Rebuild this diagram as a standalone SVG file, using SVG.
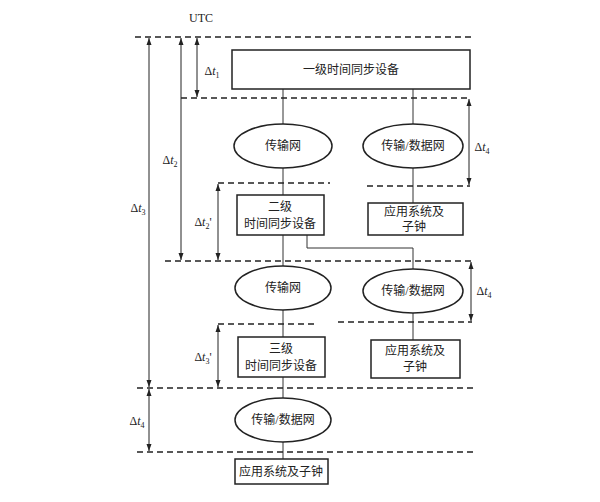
<svg xmlns="http://www.w3.org/2000/svg" width="600" height="502" viewBox="0 0 600 502">
<defs>
<marker id="ah" markerWidth="8" markerHeight="8" refX="7" refY="4" orient="auto-start-reverse" markerUnits="userSpaceOnUse"><path d="M0,1.5 L7,4 L0,6.5 Z" fill="#222"/></marker>
<style>
.b{fill:#fff;stroke:#222;stroke-width:1.5}
.l{stroke:#333;stroke-width:1;fill:none}
.d{stroke:#222;stroke-width:1.6;stroke-dasharray:6,4;fill:none}
.a{stroke:#222;stroke-width:1;fill:none}
text{font-family:"Liberation Serif","Noto Sans CJK SC",serif;font-size:12px;fill:#222;text-anchor:middle}
.t{font-style:italic}
</style>
</defs>
<rect width="600" height="502" fill="#fff"/>
<g id="connectors">
<path class="l" d="M283,89V124M413,89V124M283,168V195M413,168V203M283,235V266M307,235V248H413V269M283,310V337M413,313V340M283,377V398M283,442V459"/>
<path class="d" d="M135,37H475M181,98H470M367,186H470M218,183H330M165,261H472M338,322H472M218,324H318M137,388H475M137,452H475"/>
<line class="a" x1="149" y1="38" x2="149" y2="387" marker-start="url(#ah)" marker-end="url(#ah)"/>
<line class="a" x1="181" y1="38" x2="181" y2="260" marker-start="url(#ah)" marker-end="url(#ah)"/>
<line class="a" x1="197" y1="38" x2="197" y2="97" marker-start="url(#ah)" marker-end="url(#ah)"/>
<line class="a" x1="218" y1="184" x2="218" y2="260" marker-start="url(#ah)" marker-end="url(#ah)"/>
<line class="a" x1="218" y1="325" x2="218" y2="387" marker-start="url(#ah)" marker-end="url(#ah)"/>
<line class="a" x1="469" y1="99" x2="469" y2="185" marker-start="url(#ah)" marker-end="url(#ah)"/>
<line class="a" x1="471" y1="262" x2="471" y2="321" marker-start="url(#ah)" marker-end="url(#ah)"/>
<line class="a" x1="149" y1="389" x2="149" y2="451" marker-start="url(#ah)" marker-end="url(#ah)"/>
</g>
<text x="201" y="22">UTC</text>
<text x="212" y="75">Δ<tspan class="t">t</tspan><tspan font-size="8" dy="3">1</tspan></text>
<text x="170" y="164">Δ<tspan class="t">t</tspan><tspan font-size="8" dy="3">2</tspan></text>
<text x="138" y="212">Δ<tspan class="t">t</tspan><tspan font-size="8" dy="3">3</tspan></text>
<text x="203" y="226">Δ<tspan class="t">t</tspan><tspan font-size="8" dy="3">2</tspan><tspan dy="-3">'</tspan></text>
<text x="203" y="361">Δ<tspan class="t">t</tspan><tspan font-size="8" dy="3">3</tspan><tspan dy="-3">'</tspan></text>
<text x="482" y="151">Δ<tspan class="t">t</tspan><tspan font-size="8" dy="3">4</tspan></text>
<text x="484" y="295">Δ<tspan class="t">t</tspan><tspan font-size="8" dy="3">4</tspan></text>
<text x="137" y="425">Δ<tspan class="t">t</tspan><tspan font-size="8" dy="3">4</tspan></text>
<g id="n1"><rect class="b" x="232" y="50" width="238" height="39"/><text x="351" y="74">一级时间同步设备</text></g>
<g id="n2"><ellipse class="b" cx="283" cy="146" rx="49" ry="22"/><text x="283" y="150">传输网</text></g>
<g id="n3"><ellipse class="b" cx="413" cy="146" rx="50" ry="22"/><text x="413" y="150">传输/数据网</text></g>
<g id="n4"><rect class="b" x="237" y="195" width="87" height="40"/><text x="280" y="211">二级</text><text x="280" y="228">时间同步设备</text></g>
<g id="n5"><rect class="b" x="368" y="203" width="95" height="32"/><text x="414" y="216">应用系统及</text><text x="414" y="231">子钟</text></g>
<g id="n6"><ellipse class="b" cx="283" cy="288" rx="48" ry="22"/><text x="283" y="292">传输网</text></g>
<g id="n7"><ellipse class="b" cx="413" cy="291" rx="50" ry="22"/><text x="413" y="295">传输/数据网</text></g>
<g id="n8"><rect class="b" x="238" y="337" width="87" height="40"/><text x="281" y="353">三级</text><text x="281" y="370">时间同步设备</text></g>
<g id="n9"><rect class="b" x="371" y="340" width="89" height="38"/><text x="415" y="355">应用系统及</text><text x="415" y="371">子钟</text></g>
<g id="n10"><ellipse class="b" cx="283" cy="420" rx="48" ry="22"/><text x="283" y="424">传输/数据网</text></g>
<g id="n11"><rect class="b" x="235" y="459" width="93" height="25"/><text x="281" y="476">应用系统及子钟</text></g>
</svg>
